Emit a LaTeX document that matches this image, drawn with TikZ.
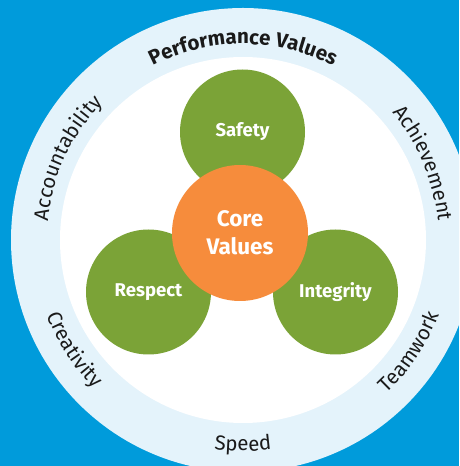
\documentclass[tikz,border=0pt]{standalone}
\usepackage{fontspec}
\setmainfont{Fira Sans}
\usetikzlibrary{decorations.text}
\definecolor{bgblue}{HTML}{009BDB}
\definecolor{ringblue}{HTML}{E4F3FB}
\definecolor{leafgreen}{HTML}{7BA337}
\definecolor{coreorange}{HTML}{F68C3C}
\definecolor{inktext}{HTML}{1A1A1A}
\newcommand{\ringfont}{\fontsize{20.5}{24}\selectfont\color{inktext}}
\newcommand{\ringboldfont}{\fontsize{20.5}{24}\selectfont\bfseries\color{inktext}}
\tikzset{
  valuecircle/.style={circle, fill=leafgreen, minimum size=125pt, inner sep=0pt,
    text=white, font=\fontsize{18.5}{22}\selectfont\bfseries},
  corecircle/.style={circle, fill=coreorange, minimum size=136pt, inner sep=0pt,
    text=white, align=center, font=\fontsize{22.5}{28}\selectfont\bfseries},
  ringlabel/.style={decorate, decoration={text along path, text align=center, text={#1}}}
}
\begin{document}
\begin{tikzpicture}[x=1pt,y=1pt]
\useasboundingbox (0,0) rectangle (459,466);
\fill[bgblue] (0,0) rectangle (459,466);
\coordinate (C) at (243,226);
\begin{scope}
\clip (0,0) rectangle (459,466);
\fill[ringblue] (C) circle[radius=232pt];
\end{scope}
\fill[white] (C) circle[radius=183pt];
% green value circles
\node[valuecircle] (safety) at (242.5,334) {Safety};
\node[valuecircle] (respect) at (148.5,174) {Respect};
\node[valuecircle] (integrity) at (335.5,174) {Integrity};
% core
\node[corecircle] (core) at (240,233) {Core\\Values};
% ring labels (top: clockwise, bottom: counterclockwise)
\path[ringlabel={|\ringboldfont|Performance Values}] (C) ++(140:196pt) arc[start angle=140, end angle=40, radius=196pt];
\path[ringlabel={|\ringfont|Accountability}] (C) ++(205:196pt) arc[start angle=205, end angle=105, radius=196pt];
\path[ringlabel={|\ringfont|Achievement}] (C) ++(73:196pt) arc[start angle=73, end angle=-27, radius=196pt];
\path[ringlabel={|\ringfont|Speed}] (C) ++(225:211pt) arc[start angle=225, end angle=315, radius=211pt];
\path[ringlabel={|\ringfont|Creativity}] (C) ++(168:210pt) arc[start angle=168, end angle=258, radius=210pt];
\path[ringlabel={|\ringfont|Teamwork}] (C) ++(281:210pt) arc[start angle=281, end angle=371, radius=210pt];
\end{tikzpicture}
\end{document}
